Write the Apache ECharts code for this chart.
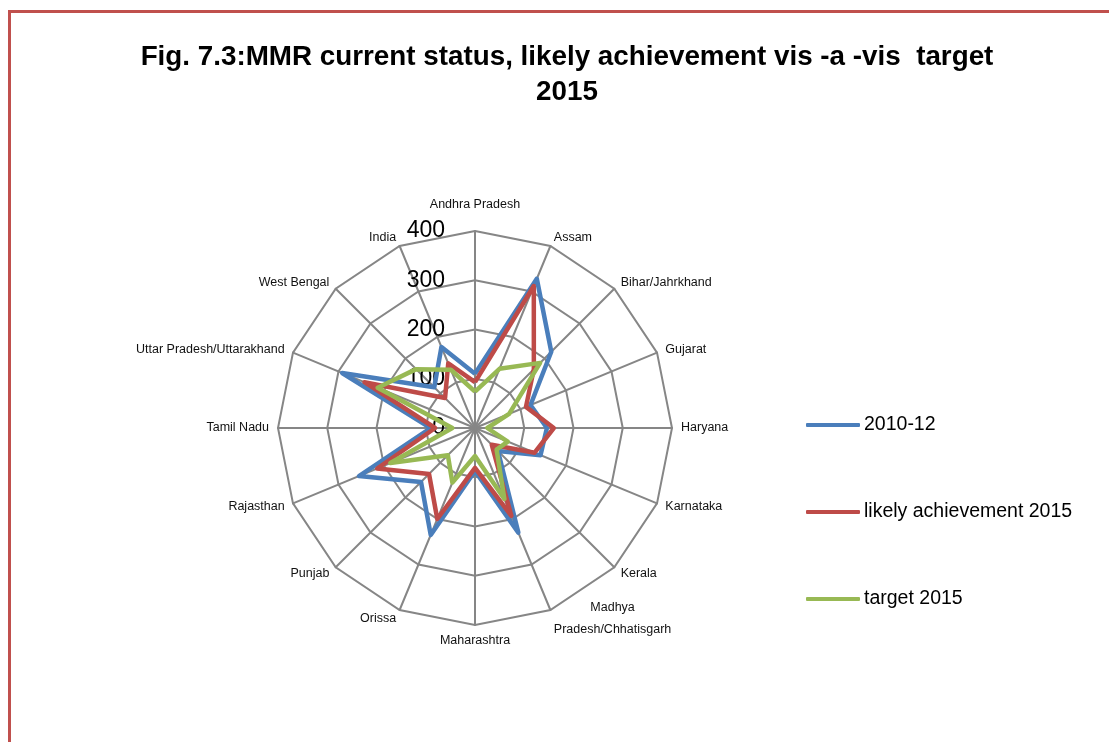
<!DOCTYPE html>
<html>

<head>
    <meta charset="utf-8">
    <title>MMR radar</title>
    <script src="https://cdn.jsdelivr.net/npm/echarts@6/dist/echarts.min.js"></script>
    <style>
        html, body { margin: 0; padding: 0; background: #fff; overflow: hidden; }
        #frame { position: absolute; left: 8px; top: 10px; width: 1130px; height: 780px;
                 border: 3px solid #C0504D; box-sizing: border-box; }
        #main { position: absolute; left: 0; top: 0; width: 1109px; height: 742px; }
    </style>
</head>

<body>
    <div id="frame"></div>
    <div id="main"></div>
    <script type="text/javascript">
        // categories in clockwise order, starting at the top
        var states = ['Andhra Pradesh', 'Assam', 'Bihar/Jahrkhand', 'Gujarat', 'Haryana', 'Karnataka',
            'Kerala', 'Madhya Pradesh/Chhatisgarh', 'Maharashtra', 'Orissa', 'Punjab', 'Rajasthan',
            'Tamil Nadu', 'Uttar Pradesh/Uttarakhand', 'West Bengal', 'India'];
        var mmr2010 = [110, 328, 219, 122, 146, 144, 66, 230, 87, 235, 155, 255, 90, 292, 117, 178];
        var likely2015 = [93, 312, 169, 112, 160, 131, 48, 193, 81, 200, 132, 215, 81, 243, 86, 142];
        var target2015 = [74, 130, 187, 75, 25, 72, 62, 156, 57, 120, 78, 186, 46, 214, 169, 128];
        var seriesNames = ['2010-12', 'likely achievement 2015', 'target 2015'];
        var colors = ['#4A7EBB', '#BE4B48', '#98B954'];
        var axisMax = 400;

        var myChart = echarts.init(document.getElementById('main'));

        // echarts lays radar axes out counter-clockwise, so feed them reversed (first one stays on top)
        var order = [0];
        for (var k = states.length - 1; k >= 1; k--) order.push(k);
        function reorder(arr) {
            return order.map(function (i) { return arr[i]; });
        }

        var indicator = reorder(states).map(function (s, i) {
            var ind = { name: s, min: 0, max: axisMax };
            if (i === 0) {
                ind.axisLabel = { show: true };
                ind.nameGap = 20;
            }
            return ind;
        });

        var option = {
            color: colors,
            title: {
                text: 'Fig. 7.3:MMR current status, likely achievement vis -a -vis  target\n2015',
                left: 562,
                top: 35,
                textAlign: 'center',
                textStyle: {
                    fontFamily: 'Liberation Sans',
                    fontWeight: 'bold',
                    fontSize: 27.8,
                    lineHeight: 35,
                    color: '#000'
                }
            },
            legend: {
                orient: 'vertical',
                left: 801,
                top: 410,
                icon: 'roundRect',
                itemWidth: 54,
                itemHeight: 4,
                itemGap: 67,
                data: seriesNames,
                textStyle: { fontFamily: 'Liberation Sans', fontSize: 19.5, color: '#000', padding: [0, 0, 0, -1] }
            },
            radar: {
                center: [475, 428],
                radius: 197,
                startAngle: 90,
                shape: 'polygon',
                splitNumber: 4,
                indicator: indicator,
                nameGap: 9,
                axisName: {
                    color: '#111',
                    fontFamily: 'Liberation Sans',
                    fontSize: 12.5,
                    formatter: function (v) {
                        return v === 'Madhya Pradesh/Chhatisgarh' ? '{c|Madhya}\n{c|Pradesh/Chhatisgarh}' : v;
                    },
                    rich: {
                        c: { align: 'center', lineHeight: 22, fontSize: 12.5, fontFamily: 'Liberation Sans', color: '#111' }
                    }
                },
                axisLine: { lineStyle: { color: '#868686', width: 2 } },
                splitLine: { lineStyle: { color: '#868686', width: 2 } },
                splitArea: { show: false },
                axisLabel: {
                    show: false,
                    fontFamily: 'Liberation Sans',
                    fontSize: 23,
                    color: '#000',
                    margin: 30
                }
            },
            series: [{
                type: 'radar',
                symbol: 'none',
                lineStyle: { width: 4.5 },
                data: [
                    { name: seriesNames[0], value: reorder(mmr2010), lineStyle: { color: colors[0], width: 4.5 } },
                    { name: seriesNames[1], value: reorder(likely2015), lineStyle: { color: colors[1], width: 4.5 } },
                    { name: seriesNames[2], value: reorder(target2015), lineStyle: { color: colors[2], width: 4.5 } }
                ]
            }]
        };

        myChart.setOption(option);
    </script>
</body>

</html>
